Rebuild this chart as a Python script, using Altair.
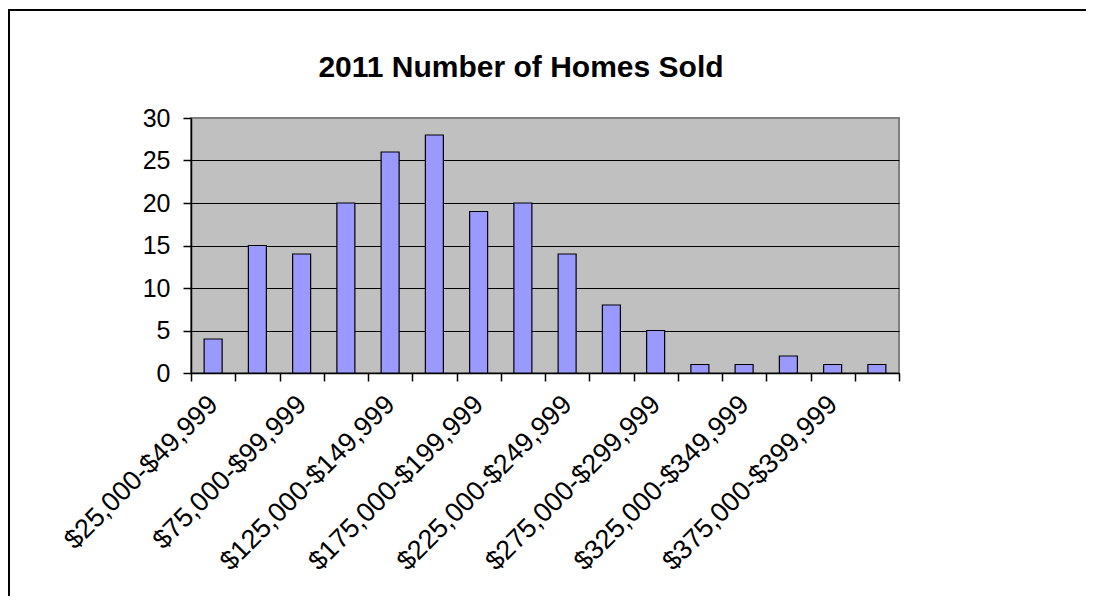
import json
import altair as alt
import pandas as pd

# ---- data ----
categories = [
    "$25,000-$49,999", "$50,000-$74,999", "$75,000-$99,999", "$100,000-$124,999",
    "$125,000-$149,999", "$150,000-$174,999", "$175,000-$199,999", "$200,000-$224,999",
    "$225,000-$249,999", "$250,000-$274,999", "$275,000-$299,999", "$300,000-$324,999",
    "$325,000-$349,999", "$350,000-$374,999", "$375,000-$399,999", "$400,000-$424,999",
]
counts = [4, 15, 14, 20, 26, 28, 19, 20, 14, 8, 5, 1, 1, 2, 1, 1]
labeled = categories[::2]
y_ticks = [0, 5, 10, 15, 20, 25, 30]
title_text = "2011 Number of Homes Sold"

FONT = "Liberation Sans"

df = pd.DataFrame({"range": categories, "count": counts})

label_expr = "indexof(" + json.dumps(labeled) + ", datum.value) >= 0 ? datum.label : ''"

bars = alt.Chart(df).mark_bar(
    width=18, fill="#9999FF", stroke="black", strokeWidth=1.2
).encode(
    x=alt.X(
        "range:N",
        sort=categories,
        scale=alt.Scale(paddingInner=0, paddingOuter=0),
        axis=alt.Axis(
            title=None,
            labelAngle=-45,
            labelAlign="right",
            labelBaseline="middle",
            labelPadding=19,
            labelLimit=0,
            labelFontSize=27,
            labelExpr=label_expr,
            tickBand="extent",
            tickSize=8,
            tickColor="black",
            tickWidth=1.5,
            domainColor="black",
            domainWidth=1.5,
            grid=False,
            labelOverlap=False,
        ),
    ),
    y=alt.Y(
        "count:Q",
        scale=alt.Scale(domain=[0, 30], nice=False),
        axis=alt.Axis(
            title=None,
            values=y_ticks,
            tickSize=8,
            tickColor="black",
            tickWidth=1.5,
            domainColor="black",
            domainWidth=1.5,
            labelPadding=13,
            labelFontSize=25,
            grid=True,
            gridColor={"condition": {"test": "datum.value == 30", "value": "transparent"}, "value": "black"},
            gridWidth=1.2,
        ),
    ),
)

one = alt.Data(values=[{"t": title_text}])

title = alt.Chart(one).mark_text(
    font=FONT, fontSize=30, fontWeight="bold", color="black",
    align="center", baseline="alphabetic",
).encode(
    x=alt.value(330), y=alt.value(-41), text="t:N"
)

top_border = alt.Chart(one).mark_rule(color="black", strokeWidth=2).encode(
    x=alt.value(-183), x2=alt.value(895), y=alt.value(-108)
)
left_border = alt.Chart(one).mark_rule(color="black", strokeWidth=2).encode(
    x=alt.value(-182), y=alt.value(-109), y2=alt.value(478)
)

chart = alt.layer(bars, title, top_border, left_border).properties(
    width=708,
    height=255,
    padding={"left": 183, "top": 110, "right": 187, "bottom": 223},
    autosize=alt.AutoSizeParams(type="none"),
    background="white",
).configure_view(
    fill="#C0C0C0", stroke="#808080", strokeWidth=2
).configure_axis(
    labelFont=FONT, labelColor="black"
)

chart.save("out.html", embed_options={"renderer": "svg", "actions": False})
